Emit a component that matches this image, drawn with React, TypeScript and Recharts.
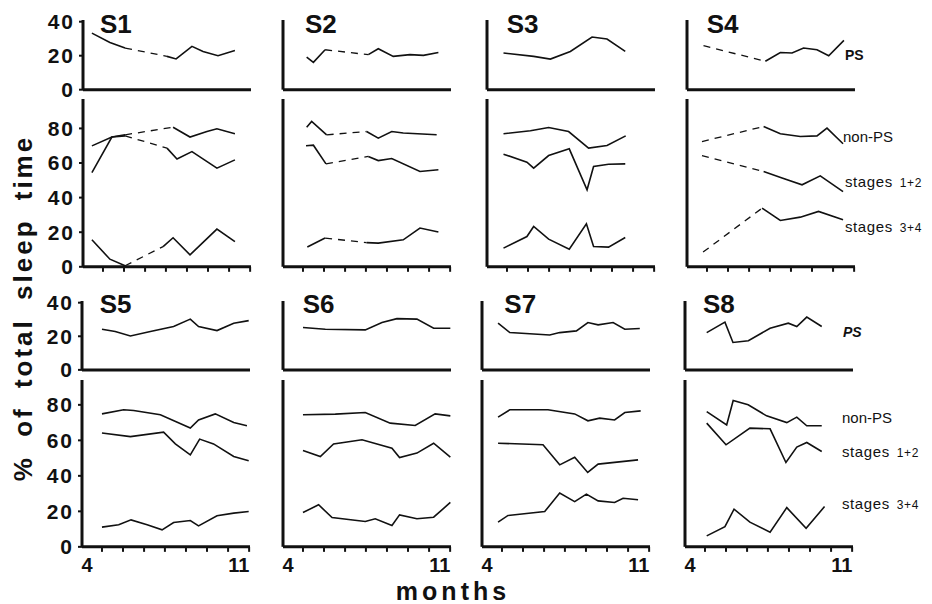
import React from 'react';
import { LineChart, Line, XAxis, YAxis } from 'recharts';

type P = [number, number] | null;

// ---- axis ticks / labels ----
const MONTH_LABELS = [4, 11];
const X_TICKS = [4.69, 5.66, 6.63, 7.59, 8.56, 9.53, 10.5, 11.47];
const PS_TICKS = [0, 20, 40];
const LOW_TICKS = [0, 20, 40, 60, 80];
const SUBJECTS = ['S1', 'S2', 'S3', 'S4', 'S5', 'S6', 'S7', 'S8'];

// ---- data: [month, % of total sleep time]; null = no recordings (dashed link) ----
const S1_PS: P[] = [[4.18, 33.3], [5.01, 27.8], [5.71, 24.5], null, [7.64, 19.6], [8.06, 18.1], [8.79, 25.5], [9.3, 22.5], [9.99, 20], [10.77, 23.1]];
const S1_NON: P[] = [[4.18, 69.9], [5.1, 75], [5.71, 76.3], null, [7.92, 80.7], [8.7, 75], [9.48, 78.2], [9.94, 79.8], [10.77, 76.9]];
const S1_ST12: P[] = [[4.18, 54.5], [5.1, 75], [5.71, 75.7], null, [7.64, 68.6], [8.1, 62.3], [8.79, 66.6], [9.94, 57], [10.77, 61.8]];
const S1_ST34: P[] = [[4.18, 15.6], [5.01, 4.4], [5.71, 0.6], null, [7.46, 11.7], [7.92, 16.8], [8.7, 6.9], [9.94, 21.8], [10.77, 14.6]];

const S2_PS: P[] = [[4.86, 19.2], [5.17, 16.1], [5.71, 23.5], null, [7.7, 20.6], [8.16, 24.1], [8.85, 19.6], [9.62, 20.6], [10.24, 20.2], [10.93, 21.9]];
const S2_NON: P[] = [[4.86, 80.7], [5.09, 84], [5.78, 76.3], null, [7.62, 78.2], [8.16, 74.4], [8.78, 78.2], [9.31, 77.3], [10.85, 76.3]];
const S2_ST12: P[] = [[4.83, 70], [5.17, 70.3], [5.75, 59.5], null, [7.7, 63.8], [8.16, 61.4], [8.78, 62.6], [10.08, 55.1], [10.93, 56.1]];
const S2_ST34: P[] = [[4.89, 11.4], [5.71, 16.6], null, [7.62, 14], [8.16, 13.7], [9.31, 15.6], [10.08, 22.4], [10.93, 20.1]];

const S3_PS: P[] = [[4.53, 21.6], [5.92, 19.6], [6.69, 18], [7.61, 22.5], [8.61, 31], [9.3, 29.8], [10.14, 22.5]];
const S3_NON: P[] = [[4.53, 76.9], [5.77, 78.6], [6.61, 80.5], [7.53, 78.2], [8.45, 68.6], [9.3, 70.1], [10.16, 75.7]];
const S3_ST12: P[] = [[4.53, 65.1], [5.61, 60.5], [5.92, 57], [6.61, 64.3], [7.56, 68.2], [8.38, 44.5], [8.68, 58], [9.37, 59.3], [10.14, 59.5]];
const S3_ST34: P[] = [[4.53, 10.8], [5.61, 17.5], [5.92, 23.3], [6.61, 16], [7.56, 10.2], [8.35, 24.9], [8.68, 11.7], [9.37, 11.4], [10.14, 16.9]];

const S4_PS: P[] = [[4.53, 25.9], null, [7.38, 16.7], [8.07, 21.9], [8.61, 21.6], [9.14, 24.5], [9.76, 23.5], [10.3, 20], [11.0, 29]];
const S4_NON: P[] = [[4.46, 72.4], null, [7.3, 81.1], [8.07, 76.9], [8.99, 75.3], [9.76, 75.7], [10.22, 80.2], [10.96, 71.1]];
const S4_ST12: P[] = [[4.46, 64.2], null, [7.3, 55.1], [8.15, 51.3], [9.07, 47.4], [9.91, 52.6], [10.96, 43.5]];
const S4_ST34: P[] = [[4.51, 8.5], null, [7.23, 33.9], [8.07, 26.8], [8.99, 28.7], [9.83, 32], [10.96, 27.2]];

const S5_PS: P[] = [[4.69, 24.2], [5.3, 22.8], [6.0, 20.2], [6.92, 22.8], [7.99, 25.8], [8.76, 30.2], [9.14, 25.8], [9.99, 23.4], [10.76, 27.8], [11.45, 29.3]];
const S5_NON: P[] = [[4.69, 74.9], [5.69, 77.2], [6.15, 76.8], [7.38, 74.4], [8.76, 66.9], [9.14, 71.5], [9.91, 74.9], [10.76, 70], [11.37, 68.2]];
const S5_ST12: P[] = [[4.69, 64.1], [6.0, 62.1], [7.53, 64.6], [8.07, 58], [8.76, 51.8], [9.19, 60.7], [9.83, 58], [10.76, 50.9], [11.45, 48.5]];
const S5_ST34: P[] = [[4.69, 11.1], [5.46, 12.4], [6.03, 15.2], [6.77, 12.4], [7.46, 9.6], [7.99, 13.7], [8.76, 14.8], [9.14, 11.8], [9.99, 17.5], [10.76, 19], [11.45, 19.9]];

const S6_PS: P[] = [[4.69, 25.2], [5.72, 24.2], [7.56, 23.8], [8.33, 28.2], [9.02, 30.5], [9.94, 30.2], [10.71, 24.8], [11.48, 24.8]];
const S6_NON: P[] = [[4.69, 74.4], [6.18, 74.8], [7.56, 75.7], [8.71, 69.7], [9.86, 68.4], [10.78, 74.9], [11.48, 73.8]];
const S6_ST12: P[] = [[4.69, 54.3], [5.49, 50.9], [6.1, 58], [7.41, 60.3], [8.79, 55.6], [9.14, 50.3], [9.94, 52.8], [10.71, 58.4], [11.48, 50.5]];
const S6_ST34: P[] = [[4.69, 19.3], [5.41, 23.7], [6.03, 16.5], [7.56, 14.3], [8.02, 15.8], [8.79, 12], [9.14, 18], [9.94, 15.8], [10.71, 16.7], [11.48, 25]];

const S7_PS: P[] = [[4.51, 27.8], [5.05, 22.2], [6.89, 20.8], [7.35, 22.2], [8.12, 23.2], [8.65, 28.2], [9.12, 26.8], [9.81, 28.2], [10.35, 24.2], [11.04, 24.6]];
const S7_NON: P[] = [[4.51, 73.1], [5.05, 77.2], [6.81, 77.2], [8.04, 74.9], [8.65, 71], [9.19, 72.5], [9.88, 71.5], [10.35, 75.7], [11.08, 76.6]];
const S7_ST12: P[] = [[4.51, 58.4], [6.58, 57.5], [7.35, 46.2], [8.04, 50.5], [8.64, 41.9], [9.12, 46.6], [10.96, 49]];
const S7_ST34: P[] = [[4.51, 13.9], [4.97, 17.7], [6.66, 19.9], [7.35, 30.3], [8.04, 25.5], [8.58, 29.7], [9.12, 25.9], [9.88, 25], [10.27, 27.4], [10.96, 26.5]];

const S8_PS: P[] = [[4.77, 22.2], [5.61, 28.4], [5.98, 16.3], [6.69, 17.3], [7.69, 24.8], [8.53, 27.8], [8.92, 25.8], [9.38, 31.4], [10.07, 25.8]];
const S8_NON: P[] = [[4.77, 76.2], [5.69, 68.7], [5.99, 82.4], [6.68, 80], [7.53, 73.8], [8.46, 70], [8.92, 73.1], [9.38, 68.2], [10.07, 68.2]];
const S8_ST12: P[] = [[4.77, 69.7], [5.66, 57.5], [6.76, 66.9], [7.69, 66.5], [8.42, 47.5], [8.92, 56.2], [9.38, 58.8], [10.07, 53.7]];
const S8_ST34: P[] = [[4.77, 6.2], [5.61, 11.4], [6.03, 21.2], [6.76, 13.9], [7.69, 8.3], [8.46, 22.1], [9.35, 10.5], [10.2, 22.7]];

const PS_SERIES = [S1_PS, S2_PS, S3_PS, S4_PS, S5_PS, S6_PS, S7_PS, S8_PS];
const NON_SERIES = [S1_NON, S2_NON, S3_NON, S4_NON, S5_NON, S6_NON, S7_NON, S8_NON];
const ST12_SERIES = [S1_ST12, S2_ST12, S3_ST12, S4_ST12, S5_ST12, S6_ST12, S7_ST12, S8_ST12];
const ST34_SERIES = [S1_ST34, S2_ST34, S3_ST34, S4_ST34, S5_ST34, S6_ST34, S7_ST34, S8_ST34];

// ---- layout ----
const FONT = '"Liberation Sans", Arial, Helvetica, sans-serif';
const XMIN = 3.77;
const XMAX = 11.51;
const PLOT_W = 168;
const LEFT = 80;
const MT = 14;
const ROWS = [
  { psZero: 90, psScale: 1.7, psMax: 41, lowZero: 267, lowScale: 1.73, lowMax: 97, titleY: 33, x0s: [83, 283, 486.7, 686.7], labels: false },
  { psZero: 370, psScale: 1.68, psMax: 41, lowZero: 547, lowScale: 1.775, lowMax: 94, titleY: 313, x0s: [81.7, 282.7, 482.3, 685], labels: true },
];
const TITLE_DX = [17, 22, 20, 20, 18, 20, 22, 18];

function buildLines(points: P[], key: string) {
  const solid: { m: number; v: number | null }[] = [];
  const dashed: { m: number; v: number }[][] = [];
  points.forEach((p, i) => {
    if (p === null) {
      const a = points[i - 1] as [number, number];
      const b = points[i + 1] as [number, number];
      solid.push({ m: (a[0] + b[0]) / 2, v: null });
      dashed.push([{ m: a[0], v: a[1] }, { m: b[0], v: b[1] }]);
    } else {
      solid.push({ m: p[0], v: p[1] });
    }
  });
  const out = [
    <Line key={key} data={solid} dataKey="v" type="linear" stroke="#111" strokeWidth={1.6} dot={false} connectNulls={false} isAnimationActive={false} />,
  ];
  dashed.forEach((d, j) => {
    out.push(
      <Line key={key + 'd' + j} data={d} dataKey="v" type="linear" stroke="#111" strokeWidth={1.3} strokeDasharray="7 6" dot={false} isAnimationActive={false} />
    );
  });
  return out;
}

const XTick = (props: any) => {
  const { x, y, payload, showLabel } = props;
  if (MONTH_LABELS.includes(payload.value)) {
    if (!showLabel) return <g />;
    return (
      <text x={x} y={y + 6} dy="0.71em" textAnchor="middle" fill="#111" fontSize={20} fontWeight={700} fontFamily={FONT}>
        {payload.value}
      </text>
    );
  }
  return <line x1={x} y1={y - 5} x2={x} y2={y} stroke="#111" strokeWidth={2} />;
};

function Panel(props: { x0: number; zero: number; scale: number; max: number; ticks: number[]; series: P[][]; yLabels: boolean; xTicks: boolean; xLabels: boolean; id: string }) {
  const { x0, zero, scale, max, ticks, series, yLabels, xTicks, xLabels, id } = props;
  const plotH = max * scale;
  const plotTop = zero - plotH;
  const xh = xTicks ? (xLabels ? 32 : 14) : 14;
  const height = MT + plotH + xh;
  const width = LEFT + PLOT_W + 2;
  return (
    <div style={{ position: 'absolute', left: x0 - LEFT, top: plotTop - MT, width, height }}>
      <LineChart width={width} height={height} margin={{ top: MT, right: 2, left: 0, bottom: 0 }}>
        <XAxis
          dataKey="m"
          type="number"
          domain={[XMIN, XMAX]}
          allowDataOverflow
          ticks={xTicks ? [...X_TICKS, ...MONTH_LABELS] : []}
          interval={0}
          height={xh}
          tickSize={5}
          tickMargin={0}
          tickLine={false}
          axisLine={{ stroke: '#111', strokeWidth: 3 }}
          tick={xTicks ? (p: any) => <XTick {...p} showLabel={xLabels} /> : false}
        />
        <YAxis
          type="number"
          domain={[0, max]}
          allowDataOverflow
          ticks={ticks}
          interval={0}
          width={LEFT}
          tickSize={4}
          tickMargin={4}
          axisLine={{ stroke: '#111', strokeWidth: 3 }}
          tickLine={{ stroke: '#111', strokeWidth: 2 }}
          tick={yLabels ? { fill: '#111', fontSize: 21, fontWeight: 700, fontFamily: FONT, letterSpacing: 2 } : false}
        />
        {series.map((s, i) => buildLines(s, id + '-' + i))}
      </LineChart>
    </div>
  );
}

export default function App() {
  const panels: React.ReactNode[] = [];
  const titles: React.ReactNode[] = [];
  SUBJECTS.forEach((name, idx) => {
    const r = idx < 4 ? 0 : 1;
    const c = idx % 4;
    const row = ROWS[r];
    const x0 = row.x0s[c];
    panels.push(
      <Panel key={name + 'ps'} id={name + 'ps'} x0={x0} zero={row.psZero} scale={row.psScale} max={row.psMax} ticks={PS_TICKS}
        series={[PS_SERIES[idx]]} yLabels={c === 0} xTicks={false} xLabels={false} />
    );
    panels.push(
      <Panel key={name + 'low'} id={name + 'low'} x0={x0} zero={row.lowZero} scale={row.lowScale} max={row.lowMax} ticks={LOW_TICKS}
        series={[NON_SERIES[idx], ST12_SERIES[idx], ST34_SERIES[idx]]} yLabels={c === 0} xTicks={true} xLabels={row.labels} />
    );
    titles.push(
      <text key={name} x={x0 + TITLE_DX[idx]} y={row.titleY} fontSize={26} fontWeight={700} fontFamily={FONT} fill="#111">
        {name}
      </text>
    );
  });

  const small = { fontSize: 15, fontFamily: FONT, fill: '#111' } as const;
  const rightLabels = (
    <g>
      <text x={845} y={60} fontSize={14} fontWeight={700} fontFamily={FONT} fill="#111">PS</text>
      <text x={843} y={142} {...small}>non-PS</text>
      <text x={845} y={187} {...small} letterSpacing={0.6}>stages<tspan dx={7} fontSize={12}>1+2</tspan></text>
      <text x={845} y={232} {...small} letterSpacing={0.6}>stages<tspan dx={7} fontSize={12}>3+4</tspan></text>

      <text x={843} y={337} fontSize={14} fontWeight={700} fontStyle="italic" fontFamily={FONT} fill="#111">PS</text>
      <text x={842} y={423} {...small}>non-PS</text>
      <text x={842} y={457} {...small} letterSpacing={0.6}>stages<tspan dx={7} fontSize={12}>1+2</tspan></text>
      <text x={842} y={509} {...small} letterSpacing={0.6}>stages<tspan dx={7} fontSize={12}>3+4</tspan></text>
    </g>
  );

  return (
    <div style={{ position: 'absolute', left: 0, top: 0, width: 932, height: 604, background: '#fff', overflow: 'hidden' }}>
      {panels}
      <svg width={932} height={604} style={{ position: 'absolute', left: 0, top: 0, pointerEvents: 'none' }}>
        {titles}
        {rightLabels}
        <text
          x={32}
          y={308}
          transform="rotate(-90 32 308)"
          textAnchor="middle"
          fontSize={26}
          fontWeight={700}
          fontFamily={FONT}
          letterSpacing={3}
          wordSpacing={8}
          fill="#111"
        >
          % of total sleep time
        </text>
        <text x={453} y={600} textAnchor="middle" fontSize={25} fontWeight={700} fontFamily={FONT} letterSpacing={4} fill="#111">
          months
        </text>
      </svg>
    </div>
  );
}
